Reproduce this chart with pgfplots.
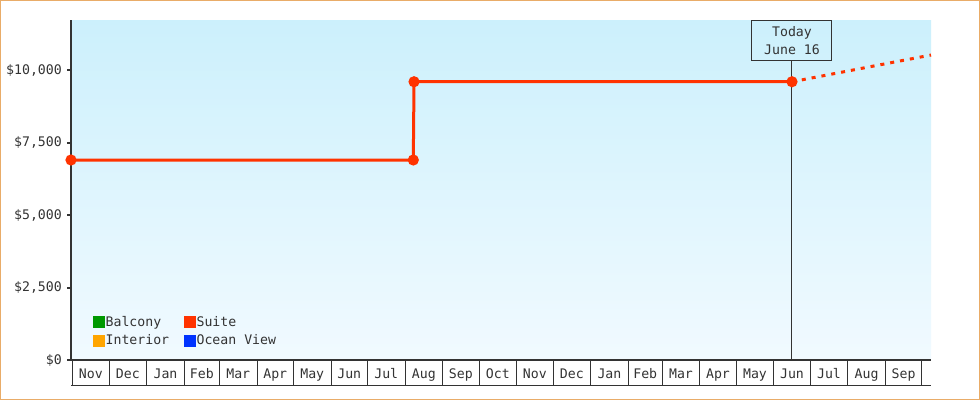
\documentclass[border=0pt]{standalone}
\usepackage{pgfplots}
\pgfplotsset{compat=1.18}
\usepackage{fontspec}
\setmainfont{DejaVu Sans Mono}
\definecolor{axisgray}{HTML}{333333}
\definecolor{suite}{HTML}{FF3300}
\definecolor{balcony}{HTML}{009900}
\definecolor{interior}{HTML}{FFA500}
\definecolor{ocean}{HTML}{0033FF}
\definecolor{bgtop}{RGB}{204,240,252}
\definecolor{bgbot}{RGB}{241,250,255}
\definecolor{framecol}{RGB}{233,172,104}
\newcommand{\chartfont}{\fontsize{13.2}{16}\selectfont}
\begin{document}
\begin{tikzpicture}[x=1pt,y=1pt,font=\chartfont]
\path[use as bounding box] (0,0) rectangle (980,400);
\fill[white] (0,0) rectangle (980,400);
\draw[framecol, line width=1pt] (0.5,0.5) rectangle (979.5,399.5);
\begin{axis}[
  at={(71pt,40pt)}, anchor=south west,
  scale only axis, width=860pt, height=340pt,
  xmin=-1.4, xmax=707.6, ymin=0, ymax=11730,
  clip=false,
  scaled y ticks=false, scaled x ticks=false,
  axis x line*=bottom, axis y line*=left,
  x axis line style={axisgray, line width=1.2pt},
  y axis line style={axisgray, line width=2pt},
  axis background/.style={top color=bgtop, bottom color=bgbot},
  tick align=outside, major tick length=25pt,
  xtick={0,30,61,92,121,152,182,213,243,274,305,335,366,396,427,458,486,517,547,578,608,639,670,700},
  xticklabel=\empty,
  xtick style={axisgray, line width=1pt},
  extra x ticks={15,45.5,76.5,106.5,136.5,167,197.5,228,258.5,289.5,320,350.5,381,411.5,442.5,472,501.5,532,562.5,593,623.5,654.5,685},
  extra x tick labels={Nov,Dec,Jan,Feb,Mar,Apr,May,Jun,Jul,Aug,Sep,Oct,Nov,Dec,Jan,Feb,Mar,Apr,May,Jun,Jul,Aug,Sep},
  extra x tick style={major tick length=0pt, tick style={draw=none}, tick label style={anchor=base, yshift=-18pt}},
  ytick={0,2500,5000,7500,10000},
  yticklabels={{\$0},{\$2,500},{\$5,000},{\$7,500},{\$10,000}},
  ytick style={draw=none},
  ticklabel style={font=\chartfont, text=axisgray},
  yticklabel style={anchor=east, inner sep=0pt, xshift=16pt},
  legend columns=2,
  legend cell align=left,
  legend style={draw=none, fill=none, at={(rel axis cs:0.0256,0.1324)}, anchor=north west,
    inner sep=0pt, row sep=5pt, font=\chartfont, text=axisgray,
    nodes={inner sep=1pt},
    /tikz/every even column/.append style={column sep=14pt}},
]
\node[draw=axisgray, line width=1pt, minimum width=80pt, minimum height=40pt, anchor=north, align=center, inner sep=0pt, text=axisgray, font=\fontsize{13.2}{17.7}\selectfont] (today) at (axis cs:593,11730) {Today\\June 16};
\draw[axisgray, line width=1pt] (axis cs:593,0) -- (today.south);
\pgfplotsinvokeforeach{0,2500,5000,7500,10000}{\draw[axisgray,line width=2pt] (axis cs:-1.4,#1) -- ++(-6pt,0);}
\draw[axisgray, line width=1pt] ([yshift=-25pt]axis cs:-1.4,0) -- ([yshift=-25pt]axis cs:707.6,0);
\addplot[suite, line width=3pt, mark=*, mark size=4pt, forget plot] coordinates {(-1.4,6900) (280.8,6900) (281.4,9600) (593,9600)};
\addplot[suite, line width=3pt, dash pattern=on 4pt off 6pt, forget plot] coordinates {(593,9600) (608,9720) (639,9970) (670,10220) (700,10460) (707.6,10520)};
\addlegendimage{legend image code/.code={\fill[balcony] (0pt,-5.5pt) rectangle (11pt,5.5pt);}}
\addlegendentry{Balcony}
\addlegendimage{legend image code/.code={\fill[suite] (0pt,-5.5pt) rectangle (11pt,5.5pt);}}
\addlegendentry{Suite}
\addlegendimage{legend image code/.code={\fill[interior] (0pt,-5.5pt) rectangle (11pt,5.5pt);}}
\addlegendentry{Interior}
\addlegendimage{legend image code/.code={\fill[ocean] (0pt,-5.5pt) rectangle (11pt,5.5pt);}}
\addlegendentry{Ocean View}
\end{axis}
\end{tikzpicture}
\end{document}
